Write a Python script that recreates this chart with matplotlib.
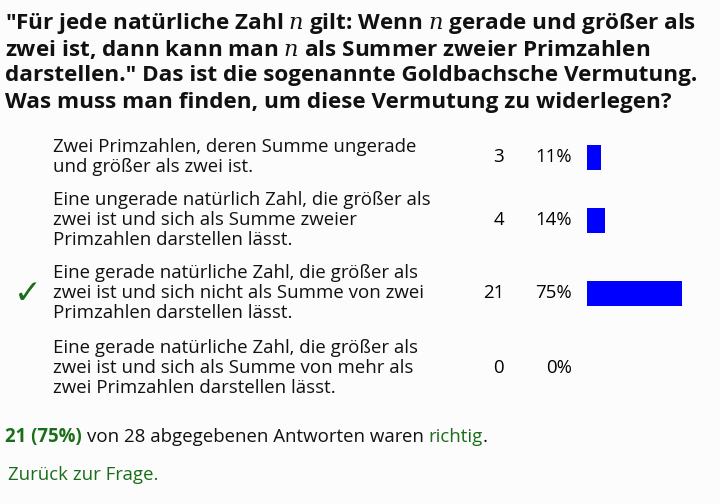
import matplotlib.pyplot as plt
plt.rcParams['mathtext.fontset'] = 'dejavuserif'

question = [
    '"Für jede natürliche Zahl $n$ gilt: Wenn $n$ gerade und größer als',
    'zwei ist, dann kann man $n$ als Summer zweier Primzahlen',
    'darstellen." Das ist die sogenannte Goldbachsche Vermutung.',
    'Was muss man finden, um diese Vermutung zu widerlegen?',
]
answers = [
    "Zwei Primzahlen, deren Summe ungerade\nund größer als zwei ist.",
    "Eine ungerade natürlich Zahl, die größer als\nzwei ist und sich als Summe zweier\nPrimzahlen darstellen lässt.",
    "Eine gerade natürliche Zahl, die größer als\nzwei ist und sich nicht als Summe von zwei\nPrimzahlen darstellen lässt.",
    "Eine gerade natürliche Zahl, die größer als\nzwei ist und sich als Summe von mehr als\nzwei Primzahlen darstellen lässt.",
]
counts = [3, 4, 21, 0]
percents = [11, 14, 75, 0]
correct = [False, False, True, False]
total = 28

FONT = "Open Sans"
GREEN = "#1a6e1a"
FS = 13.4

fig = plt.figure(figsize=(7.2, 5.04), dpi=100)
fig.patch.set_facecolor("#fcfcfc")
ax = fig.add_axes([0, 0, 1, 1])
ax.set_xlim(0, 720)
ax.set_ylim(504, 0)
ax.axis("off")

for i, line in enumerate(question):
    ax.text(5, 23 + i * 26.5, line, fontsize=16.2, fontweight="bold",
            family=FONT, va="center", ha="left", color="#111")

row_y = [157, 220, 293, 368]
scale = 95 / 75
for y, a, c, p, ok in zip(row_y, answers, counts, percents, correct):
    ax.text(53, y, a, fontsize=FS, family=FONT, va="center", ha="left",
            linespacing=1.12, color="#111")
    ax.text(504, y, str(c), fontsize=FS, family=FONT, va="center", ha="right")
    ax.text(572, y, f"{p}%", fontsize=FS, family=FONT, va="center", ha="right")
    if p > 0:
        ax.barh(y, p * scale, left=587, height=25, color="#0000ff")
    if ok:
        ax.text(28, y, "✓", fontsize=24, color=GREEN, va="center", ha="center",
                family="DejaVu Sans")

nc = counts[correct.index(True)]
pc = percents[correct.index(True)]
parts = [(f"{nc} ({pc}%) ", "bold", GREEN),
         (f"von {total} abgegebenen Antworten waren ", "normal", "#111"),
         ("richtig", "normal", GREEN),
         (".", "normal", "#111")]
renderer = fig.canvas.get_renderer()
x = 5
for s, w, col in parts:
    t = ax.text(x, 437, s, fontsize=FS, family=FONT, fontweight=w,
                color=col, va="center")
    bb = t.get_window_extent(renderer)
    x += bb.width
ax.text(8, 475, "Zurück zur Frage.", fontsize=FS, family=FONT, va="center",
        color=GREEN)

fig.savefig("out.png", dpi=100, facecolor=fig.get_facecolor())
